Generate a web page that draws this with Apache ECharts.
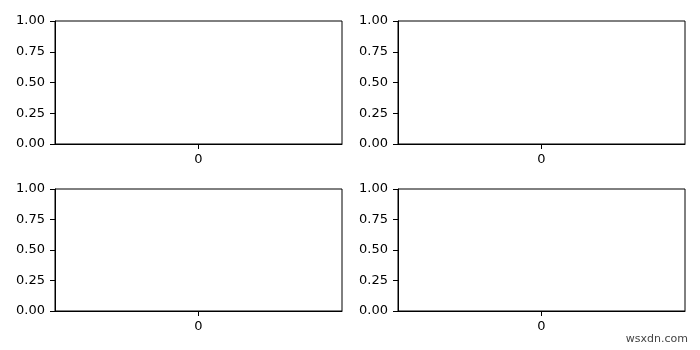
<!DOCTYPE html>
<html><head><meta charset="utf-8">
<script src="https://cdn.jsdelivr.net/npm/echarts@6/dist/echarts.min.js"></script>
<style>html,body{margin:0;padding:0;background:#fff}#c{width:700px;height:350px}</style>
</head><body><div id="c"></div>
<script>
const categories = ['0'];
const yTicks = [0, 0.25, 0.5, 0.75, 1];
const yMin = 0, yMax = 1, yInterval = 0.25;
const watermark = 'wsxdn.com';

const grids = [
  {left: 55, top: 21, width: 287, height: 123},
  {left: 398, top: 21, width: 287, height: 123},
  {left: 55, top: 189, width: 287, height: 122},
  {left: 398, top: 189, width: 287, height: 122}
];
const font = 'DejaVu Sans';
const chart = echarts.init(document.getElementById('c'), null, {renderer: 'canvas'});
chart.setOption({
  animation: false,
  backgroundColor: '#fff',
  grid: grids.map(g => Object.assign({show: true, borderColor: '#000', borderWidth: 1, backgroundColor: 'transparent'}, g)),
  xAxis: grids.map((g, i) => ({
    type: 'category', gridIndex: i, data: categories, boundaryGap: true,
    axisLine: {show: true, lineStyle: {color: '#000', width: 1}},
    axisTick: {show: true, alignWithLabel: true, length: 5, lineStyle: {color: '#000'}},
    axisLabel: {color: '#000', fontFamily: font, fontSize: 13, margin: 9},
    splitLine: {show: false}
  })),
  yAxis: grids.map((g, i) => ({
    type: 'value', gridIndex: i, min: yMin, max: yMax, interval: yInterval,
    axisLine: {show: true, lineStyle: {color: '#000', width: 1}},
    axisTick: {show: true, length: 5, lineStyle: {color: '#000'}},
    axisLabel: {color: '#000', fontFamily: font, fontSize: 13, margin: 10,
      formatter: v => v.toFixed(2)},
    splitLine: {show: false}
  })),
  series: grids.map((g, i) => ({type: 'line', xAxisIndex: i, yAxisIndex: i, data: []})),
  graphic: [{
    type: 'text', right: 12, bottom: 5,
    style: {text: watermark, fill: '#444', font: '11px "DejaVu Sans"'}
  }]
});
</script></body></html>
